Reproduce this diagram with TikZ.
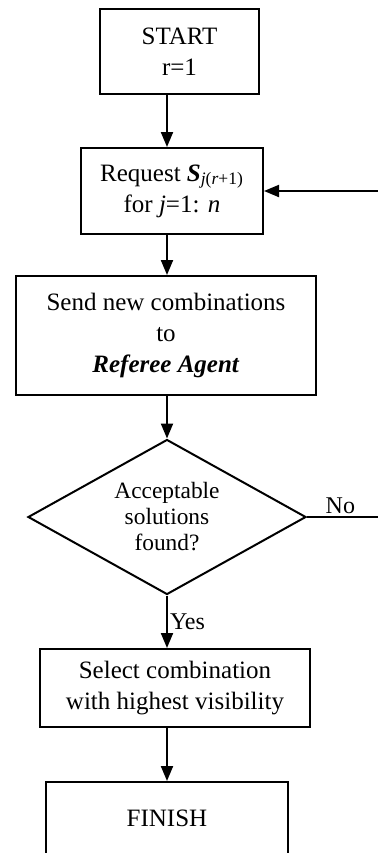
\documentclass[tikz,border=0pt]{standalone}
\usepackage{fontspec}
\setmainfont{Liberation Serif}
\usetikzlibrary{shapes.geometric,arrows.meta}
\begin{document}
\begin{tikzpicture}[x=0.5pt, y=-0.5pt,
    process/.style ={rectangle, draw, line width=1pt, align=center, inner sep=0pt,
      font=\fontsize{12.5}{15.5}\selectfont},
    decision/.style ={diamond, draw, line width=1pt, align=center, inner sep=0pt,
      shape aspect=1.8, font=\fontsize{11.7}{13}\selectfont},
    flow/.style ={line width=1pt, -{Triangle[width=6pt,length=7.5pt]}},
    tag/.style ={inner sep=1pt, font=\fontsize{12}{14}\selectfont}]
   \useasboundingbox (0,0) rectangle (378,853);
   \clip (0,0) rectangle (378,853);
   \coordinate (spine) at (167,0);
   \node[process, minimum width=79.5pt, minimum height=42.5pt] (start) at (179.5,51.5) {START\\r=1};
   \node[process, minimum width=91pt, minimum height=43pt] (request) at (172,191)
     {Request \textbf{\textit{S}}\textsubscript{\textit{j}(\textit{r}+1)}\\for \textit{j}=1: \textit{n}};
   \node[process, minimum width=150pt, minimum height=59.5pt] (send) at (166,335.5)
     {Send new combinations\\to\\\textbf{\textit{Referee Agent}}};
   \node[decision, minimum width=139pt, minimum height=77.5pt] (check) at (167,517)
     {Acceptable\\solutions\\found?};
   \node[process, minimum width=135pt, minimum height=39pt] (select) at (175,688)
     {Select combination\\with highest visibility};
   \node[process, minimum width=121pt, text height=22pt, text depth=30pt, anchor=north] (finish) at (167,781) {FINISH};
   \coordinate (loopin) at (378,191);
   \coordinate (loopout) at (378,517);
   \draw[flow] (start.south -| spine) -- (request.north -| spine);
   \draw[flow] (loopin) -- (request.east);
   \draw[flow] (request.south -| spine) -- (send.north -| spine);
   \draw[flow] (send.south -| spine) -- (check.north);
   \draw[line width=1pt] (check.east) -- (loopout) node[tag, pos=0.47, above] {No};
   \draw[flow] (check.south) -- (select.north -| check.south) node[tag, midway, right] {Yes};
   \draw[flow] (select.south -| spine) -- (finish.north -| spine);
\end{tikzpicture}
\end{document}
